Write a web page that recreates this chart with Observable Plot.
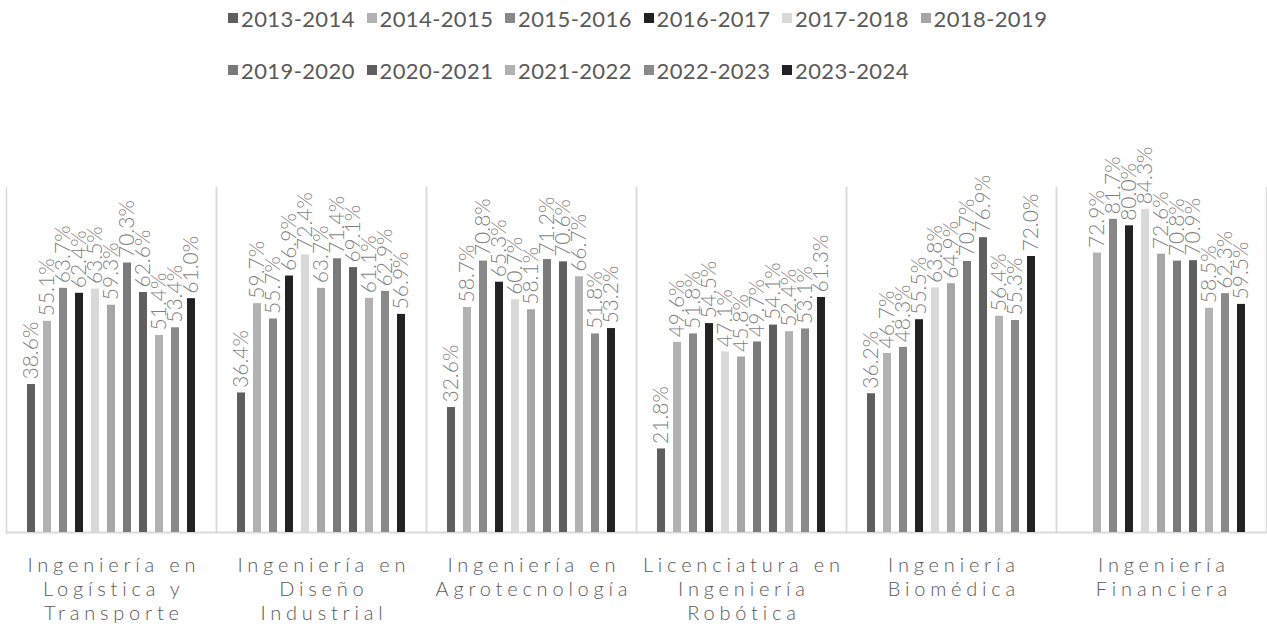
<!DOCTYPE html>
<html>
<head>
<meta charset="utf-8">
<script src="https://cdn.jsdelivr.net/npm/d3@7"></script>
<script src="https://cdn.jsdelivr.net/npm/@observablehq/plot@0.6"></script>
<style>
  html, body { margin: 0; padding: 0; background: #fff; width: 1267px; height: 625px; overflow: hidden; font-family: Lato, "Noto Sans", sans-serif; }
  #legend { position: absolute; left: 228px; top: 4px; width: 850px; display: flex; flex-wrap: wrap; row-gap: 24px; }
  .item { width: 138.5px; display: flex; align-items: center; height: 28px; font-size: 22px; letter-spacing: 0.4px; font-weight: 400; color: #595959; white-space: nowrap; }
  .sw { width: 10px; height: 10px; margin-right: 3px; flex: none; }
  #chart { position: absolute; left: 0; top: 100px; }
  #chart svg [aria-label="fx-axis tick label"] text { letter-spacing: 4.8px; font-weight: 300; }
  #chart svg [aria-label="text"] text { font-weight: 300; }
</style>
</head>
<body>
<div id="legend"></div>
<div id="chart"></div>
<script>
const categories = [
  "Ingeniería en Logística y Transporte",
  "Ingeniería en Diseño Industrial",
  "Ingeniería en Agrotecnología",
  "Licenciatura en Ingeniería Robótica",
  "Ingeniería Biomédica",
  "Ingeniería Financiera"
];
const categoryLines = [
  ["Ingeniería en", "Logística y", "Transporte"],
  ["Ingeniería en", "Diseño", "Industrial"],
  ["Ingeniería en", "Agrotecnología"],
  ["Licenciatura en", "Ingeniería", "Robótica"],
  ["Ingeniería", "Biomédica"],
  ["Ingeniería", "Financiera"]
];
const series = ["2013-2014","2014-2015","2015-2016","2016-2017","2017-2018","2018-2019","2019-2020","2020-2021","2021-2022","2022-2023","2023-2024"];
const seriesColors = ["#5f5f5f","#b2b2b2","#888888","#222222","#d9d9d9","#a6a6a6","#7a7a7a","#5f5f5f","#b2b2b2","#8a8a8a","#222222"];

const logistica    = [38.6, 55.1, 63.7, 62.4, 63.5, 59.3, 70.3, 62.6, 51.4, 53.4, 61.0];
const diseno       = [36.4, 59.7, 55.7, 66.9, 72.4, 63.7, 71.4, 69.1, 61.1, 62.9, 56.9];
const agro         = [32.6, 58.7, 70.8, 65.3, 60.7, 58.1, 71.2, 70.6, 66.7, 51.8, 53.2];
const robotica     = [21.8, 49.6, 51.8, 54.5, 47.1, 45.8, 49.7, 54.1, 52.4, 53.1, 61.3];
const biomedica    = [36.2, 46.7, 48.3, 55.5, 63.8, 64.9, 70.7, 76.9, 56.4, 55.3, 72.0];
const financiera   = [null, 72.9, 81.7, 80.0, 84.3, 72.6, 70.8, 70.9, 58.5, 62.3, 59.5];
const valuesByCategory = [logistica, diseno, agro, robotica, biomedica, financiera];

const data = [];
categories.forEach((c, i) => {
  valuesByCategory[i].forEach((v, j) => {
    if (v != null) data.push({category: c, series: series[j], value: v});
  });
});

// legend
const legend = document.getElementById("legend");
series.forEach((s, j) => {
  const it = document.createElement("div");
  it.className = "item";
  it.innerHTML = `<span class="sw" style="background:${seriesColors[j]}"></span><span>${s}</span>`;
  legend.appendChild(it);
});

const lineMap = new Map(categories.map((c, i) => [c, categoryLines[i].join("\n")]));

const chart = Plot.plot({
  width: 1267,
  height: 525,
  marginTop: 87,
  marginBottom: 93,
  marginLeft: 6,
  marginRight: 1,
  style: {background: "#fff", fontFamily: "Lato, 'Noto Sans', sans-serif"},
  fx: {domain: categories, padding: 0},
  x: {domain: series, paddingInner: 0.48, paddingOuter: 1.18, axis: null},
  y: {domain: [0, 90], axis: null},
  color: {domain: series, range: seriesColors},
  marks: [
    Plot.frame({anchor: "left", stroke: "#d9d9d9", strokeWidth: 1.5}),
    Plot.frame({anchor: "right", stroke: "#d9d9d9", strokeWidth: 1.5}),
    Plot.ruleY([0], {stroke: "#d9d9d9", strokeWidth: 2}),
    Plot.barY(data, {fx: "category", x: "series", y: "value", fill: "series"}),
    Plot.text(data, {
      fx: "category", x: "series", y: "value",
      text: d => d.value.toFixed(1) + "%",
      rotate: -90, textAnchor: "start", lineAnchor: "middle",
      dy: -5, fill: "#7f7f7f", fontSize: 21
    }),
    Plot.axisFx({
      anchor: "bottom", tickSize: 0, tickPadding: 22, label: null,
      tickFormat: c => lineMap.get(c),
      fontSize: 20, lineHeight: 1.2, fill: "#595959", dx: 2.4
    })
  ]
});
document.getElementById("chart").appendChild(chart);
</script>
</body>
</html>
